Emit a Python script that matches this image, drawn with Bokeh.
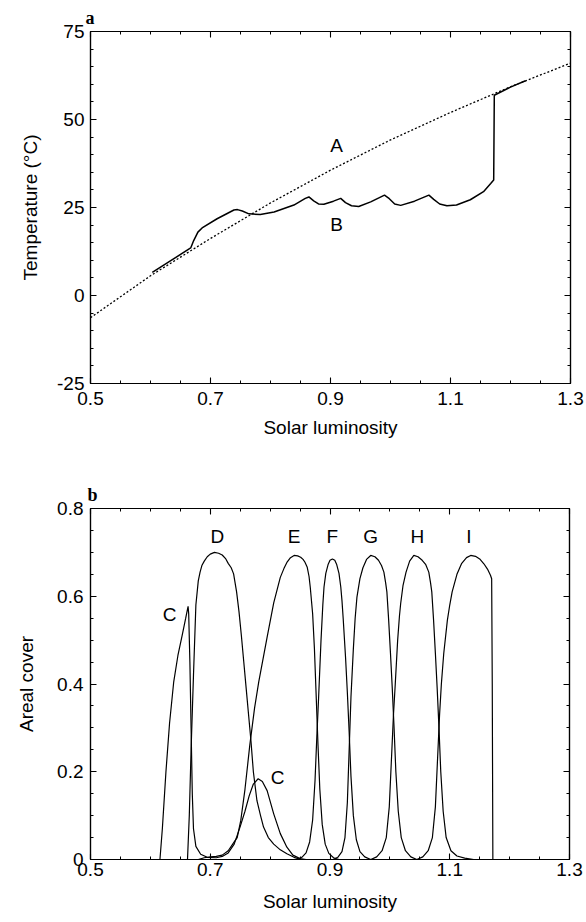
import numpy as np
from bokeh.plotting import figure
from bokeh.models import LinearAxis, FixedTicker, Label, Range1d, Title
from bokeh.layouts import column
from bokeh.embed import file_html
from bokeh.resources import INLINE

# ---------------- Panel a data ----------------
lum_a = [0.5, 0.6, 0.7, 0.8, 0.9, 1.0, 1.1, 1.2, 1.3]
temp_a = [-6.3, 5.6, 16.2, 26.3, 35.6, 44.2, 52.0, 59.3, 66.0]

lum_b = [0.603, 0.667, 0.672, 0.679, 0.686, 0.711, 0.739, 0.745, 0.753, 0.764,
         0.783, 0.806, 0.839, 0.858, 0.864, 0.872, 0.880, 0.889, 0.905, 0.917,
         0.925, 0.935, 0.947, 0.967, 0.990, 0.998, 1.007, 1.017, 1.040, 1.064,
         1.072, 1.082, 1.094, 1.110, 1.133, 1.155, 1.167, 1.172, 1.173, 1.200, 1.225]
temp_b = [6.6, 13.5, 15.6, 18.0, 19.2, 21.8, 24.3, 24.4, 24.0, 23.2,
          23.0, 23.7, 25.7, 27.6, 28.0, 26.9, 26.0, 25.9, 26.8, 27.6,
          26.4, 25.5, 25.3, 26.6, 28.5, 27.5, 26.0, 25.6, 26.8, 28.5,
          27.3, 26.0, 25.5, 25.7, 27.2, 29.5, 31.8, 32.8, 56.9, 59.2, 61.0]

a_labels = ["A", "B"]
a_label_x = [0.91, 0.91]
a_label_y = [42.6, 20.2]

# ---------------- Panel b data ----------------
C_x = [0.616, 0.620, 0.626, 0.632, 0.639, 0.646, 0.653, 0.659, 0.663, 0.664,
       0.666, 0.668, 0.670, 0.672, 0.676, 0.684, 0.695, 0.710, 0.720, 0.730,
       0.740, 0.750, 0.758, 0.765, 0.772, 0.780, 0.787, 0.795, 0.806, 0.817,
       0.828, 0.838, 0.850, 0.860]
C_y = [0.0, 0.07, 0.20, 0.31, 0.405, 0.465, 0.51, 0.55, 0.577, 0.56,
       0.45, 0.30, 0.15, 0.07, 0.03, 0.012, 0.005, 0.004, 0.007, 0.015,
       0.035, 0.075, 0.11, 0.145, 0.172, 0.184, 0.178, 0.157, 0.104, 0.059,
       0.028, 0.01, 0.002, 0.0]

D_x = [0.662, 0.665, 0.668, 0.672, 0.676, 0.680, 0.683, 0.686, 0.690, 0.695,
       0.700, 0.707, 0.714, 0.720, 0.726, 0.730, 0.735, 0.739, 0.744, 0.748,
       0.752, 0.756, 0.760, 0.764, 0.768, 0.772, 0.778, 0.784, 0.789, 0.797,
       0.806, 0.817, 0.828, 0.840, 0.851]
D_y = [0.0, 0.10, 0.25, 0.42, 0.58, 0.635, 0.655, 0.67, 0.68, 0.69,
       0.696, 0.70, 0.698, 0.694, 0.685, 0.675, 0.665, 0.651, 0.61, 0.565,
       0.51, 0.45, 0.39, 0.33, 0.27, 0.20, 0.134, 0.10, 0.074, 0.05,
       0.035, 0.022, 0.013, 0.005, 0.0]

E_x = [0.680, 0.690, 0.700, 0.710, 0.720, 0.730, 0.740, 0.745, 0.751, 0.758,
       0.766, 0.774, 0.781, 0.795, 0.806, 0.817, 0.823, 0.828, 0.834, 0.840,
       0.846, 0.851, 0.855, 0.858, 0.862, 0.865, 0.867, 0.871, 0.874, 0.877,
       0.880, 0.883, 0.887, 0.892, 0.898, 0.906, 0.915]
E_y = [0.0, 0.004, 0.006, 0.007, 0.01, 0.02, 0.04, 0.05, 0.089, 0.16,
       0.26, 0.345, 0.405, 0.507, 0.585, 0.643, 0.663, 0.677, 0.688, 0.693,
       0.692, 0.689, 0.684, 0.678, 0.666, 0.645, 0.621, 0.56, 0.48, 0.37,
       0.26, 0.16, 0.08, 0.035, 0.014, 0.004, 0.0]

F_x = [0.845, 0.853, 0.860, 0.866, 0.871, 0.875, 0.878, 0.881, 0.885, 0.888,
       0.890, 0.893, 0.897, 0.900, 0.904, 0.908, 0.911, 0.915, 0.918, 0.920,
       0.922, 0.926, 0.929, 0.932, 0.935, 0.939, 0.944, 0.950, 0.958, 0.968]
F_y = [0.0, 0.005, 0.015, 0.04, 0.09, 0.18, 0.28, 0.37, 0.50, 0.58,
       0.621, 0.652, 0.673, 0.682, 0.685, 0.682, 0.673, 0.652, 0.621, 0.59,
       0.55, 0.46, 0.38, 0.29, 0.19, 0.10, 0.045, 0.018, 0.006, 0.0]

G_x = [0.905, 0.913, 0.920, 0.925, 0.929, 0.932, 0.935, 0.939, 0.942, 0.945,
       0.950, 0.955, 0.961, 0.968, 0.975, 0.981, 0.986, 0.990, 0.993, 0.995,
       0.998, 1.001, 1.004, 1.007, 1.010, 1.014, 1.019, 1.026, 1.035, 1.045]
G_y = [0.0, 0.005, 0.018, 0.05, 0.13, 0.25, 0.37, 0.48, 0.55, 0.598,
       0.64, 0.665, 0.684, 0.693, 0.69, 0.682, 0.67, 0.655, 0.63, 0.61,
       0.545, 0.47, 0.39, 0.30, 0.20, 0.11, 0.05, 0.02, 0.006, 0.0]

H_x = [0.968, 0.978, 0.987, 0.994, 0.999, 1.003, 1.006, 1.009, 1.013, 1.016,
       1.018, 1.022, 1.027, 1.033, 1.040, 1.047, 1.054, 1.060, 1.065, 1.068,
       1.070, 1.073, 1.076, 1.079, 1.082, 1.085, 1.089, 1.094, 1.102, 1.112,
       1.125, 1.140]
H_y = [0.0, 0.006, 0.02, 0.05, 0.12, 0.24, 0.33, 0.40, 0.50, 0.555,
       0.583, 0.625, 0.655, 0.68, 0.693, 0.69, 0.682, 0.672, 0.655, 0.63,
       0.61, 0.545, 0.47, 0.39, 0.30, 0.20, 0.11, 0.05, 0.02, 0.008,
       0.003, 0.0]

I_x = [1.045, 1.055, 1.064, 1.071, 1.076, 1.080, 1.083, 1.086, 1.090, 1.096,
       1.100, 1.104, 1.112, 1.120, 1.128, 1.135, 1.143, 1.150, 1.157, 1.163,
       1.168, 1.170, 1.171, 1.172]
I_y = [0.0, 0.006, 0.02, 0.05, 0.12, 0.24, 0.33, 0.40, 0.47, 0.545,
       0.58, 0.61, 0.65, 0.675, 0.688, 0.693, 0.691, 0.685, 0.674, 0.662,
       0.648, 0.64, 0.40, 0.0]

b_labels = ["C", "D", "E", "F", "G", "H", "I", "C"]
b_label_x = [0.632, 0.712, 0.840, 0.904, 0.968, 1.046, 1.132, 0.8125]
b_label_y = [0.559, 0.737, 0.737, 0.737, 0.737, 0.737, 0.737, 0.186]

x_ticks = [0.5, 0.7, 0.9, 1.1, 1.3]
ya_ticks = [-25, 0, 25, 50, 75]
yb_ticks = [0, 0.2, 0.4, 0.6, 0.8]

FONT = "Liberation Sans"
FS = "19px"


def style_axis(ax, ticks, minor, standoff=6, show=True):
    ax.ticker = FixedTicker(ticks=ticks, minor_ticks=minor)
    ax.major_tick_in = 6
    ax.major_tick_out = 0
    ax.minor_tick_in = 3
    ax.minor_tick_out = 0
    ax.axis_line_color = "black"
    ax.axis_line_width = 1.2
    ax.major_tick_line_color = "black"
    ax.major_tick_line_width = 1.1
    ax.minor_tick_line_color = "black"
    ax.minor_tick_line_width = 1.0
    ax.major_label_text_font = FONT
    ax.major_label_text_color = "black"
    ax.axis_label_text_font = FONT
    ax.axis_label_text_font_style = "normal"
    ax.axis_label_text_font_size = FS
    ax.axis_label_text_color = "black"
    ax.major_label_standoff = standoff
    if show:
        ax.major_label_text_font_size = FS
    else:
        ax.major_label_text_font_size = "0px"
        ax.major_label_standoff = 0
        ax.major_label_overrides = {t: "" for t in ticks}


def make_fig(xr, yr, frame, borders, tag, tag_offset):
    fw, fh = frame
    l, r, t, b = borders
    p = figure(frame_width=fw, frame_height=fh, x_range=xr, y_range=yr,
               output_backend="svg", toolbar_location=None,
               min_border_left=l, min_border_right=r,
               min_border_top=t, min_border_bottom=b)
    p.title = Title(text=tag, align="left", text_font="Liberation Serif",
                    text_font_style="bold", text_font_size="18px",
                    text_color="black", offset=tag_offset, standoff=7)
    p.xgrid.visible = False
    p.ygrid.visible = False
    p.outline_line_color = "black"
    p.outline_line_width = 1.2
    p.background_fill_color = "white"
    p.border_fill_color = "white"
    return p


x_minor = list(np.round(np.arange(0.5, 1.3001, 0.05), 3))
ya_minor = list(range(-25, 76, 5))
yb_minor = list(np.round(np.arange(0, 0.8001, 0.05), 3))

# ---------------- Figure a ----------------
pa = make_fig(Range1d(0.5, 1.3), Range1d(-25, 75), (480, 352), (80, 26, 31, 78), "a", -5)
style_axis(pa.xaxis[0], x_ticks, x_minor, standoff=8)
style_axis(pa.yaxis[0], ya_ticks, ya_minor, standoff=6)
pa.yaxis[0].major_label_overrides = {-25: "-25"}
pa.xaxis[0].axis_label = "Solar luminosity"
pa.xaxis[0].axis_label_standoff = 9
pa.yaxis[0].axis_label = "Temperature (°C)"
pa.yaxis[0].axis_label_standoff = 13
ta = LinearAxis(); style_axis(ta, x_ticks, x_minor, show=False)
ra = LinearAxis(); style_axis(ra, ya_ticks, ya_minor, show=False)
pa.add_layout(ta, "above")
pa.add_layout(ra, "right")

pa.line(lum_a, temp_a, line_color="black", line_width=1.3, line_dash="2 2")
pa.line(lum_b, temp_b, line_color="black", line_width=1.5)
for t, x, y in zip(a_labels, a_label_x, a_label_y):
    pa.add_layout(Label(x=x, y=y, text=t, text_font=FONT, text_font_size=FS,
                        text_align="center", text_baseline="middle", text_color="black"))

# ---------------- Figure b ----------------
pb = make_fig(Range1d(0.5, 1.3), Range1d(0, 0.8), (479, 351), (90, 17, 47, 63), "b", -3)
style_axis(pb.xaxis[0], x_ticks, x_minor, standoff=3)
style_axis(pb.yaxis[0], yb_ticks, yb_minor, standoff=7)
pb.yaxis[0].major_label_overrides = {0: "0"}
pb.xaxis[0].axis_label = "Solar luminosity"
pb.xaxis[0].axis_label_standoff = 12
pb.yaxis[0].axis_label = "Areal cover"
pb.yaxis[0].axis_label_standoff = 17
tb = LinearAxis(); style_axis(tb, x_ticks, x_minor, show=False)
rb = LinearAxis(); style_axis(rb, yb_ticks, yb_minor, show=False)
pb.add_layout(tb, "above")
pb.add_layout(rb, "right")

for xs, ys in [(C_x, C_y), (D_x, D_y), (E_x, E_y), (F_x, F_y),
               (G_x, G_y), (H_x, H_y), (I_x, I_y)]:
    pb.line(xs, ys, line_color="black", line_width=1.2)
for t, x, y in zip(b_labels, b_label_x, b_label_y):
    pb.add_layout(Label(x=x, y=y, text=t, text_font=FONT, text_font_size=FS,
                        text_align="center", text_baseline="middle", text_color="black"))

layout = column(pa, pb, spacing=0)
open("out.html", "w").write(file_html(layout, INLINE))
